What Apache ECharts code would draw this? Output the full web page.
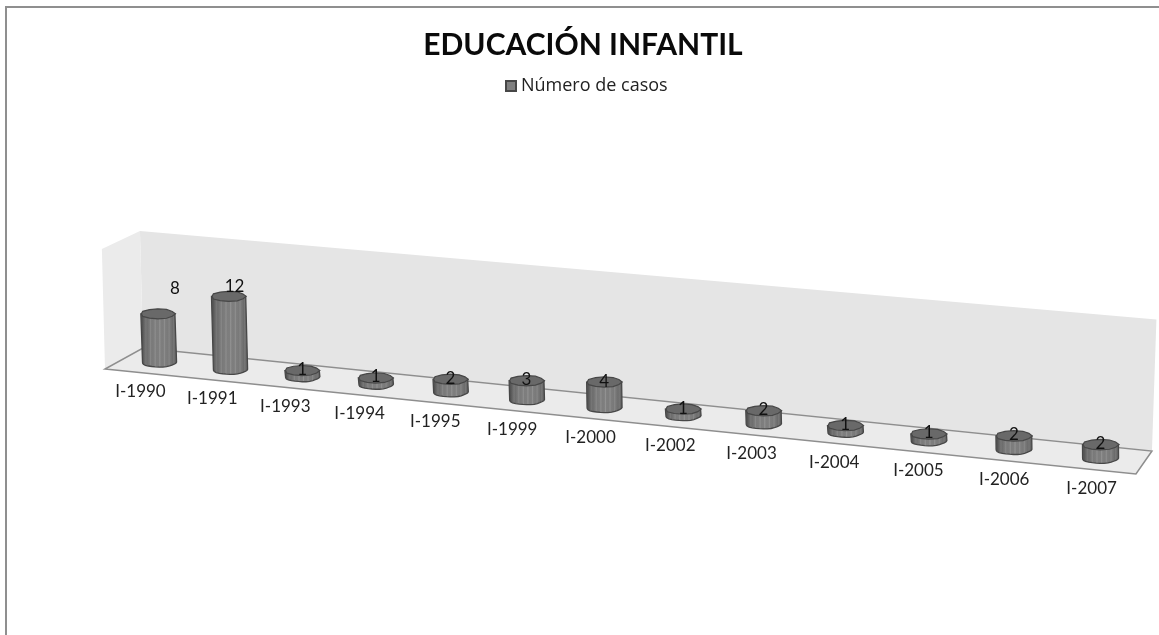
<!DOCTYPE html>
<html>
<head>
<meta charset="utf-8">
<style>html,body{margin:0;padding:0;background:#fff}#c{width:1159px;height:635px}</style>
<script src="https://cdn.jsdelivr.net/npm/echarts@6/dist/echarts.min.js"></script>
</head>
<body>
<div id="c"></div>
<script>
const categories = ['I-1990','I-1991','I-1993','I-1994','I-1995','I-1999','I-2000','I-2002','I-2003','I-2004','I-2005','I-2006','I-2007'];
const casos = [8,12,1,1,2,3,4,1,2,1,1,2,2];
const seriesName = 'Número de casos';
const titleText = 'EDUCACIÓN INFANTIL';
const wallTop = 19.75;
const labelNudge = {0:[17,-25],1:[6,-10]};

const FONT = 'Lato, Carlito, "Open Sans", sans-serif';
const N = categories.length;

// perspective projection of the plot box: u = position along the category axis,
// h = pixels above the floor (from the value axis), d = depth (-1 back, +1 front)
function project(u, h, d) {
  const t = u / N, w = 1 - 0.00853 * u, sc = 1 / w;
  const X = (68.7 * u + 124) * sc;
  const Y = 358.5 + 0.102 * (X - 124);
  const H = h * sc * (1 + 0.013 * d);
  return [
    X - d * (19 - 11 * t) + H * (-0.026 + 0.06 * t),
    Y + d * (10.5 + t) - H
  ];
}
function heightOf(api, params, v) {
  const cs = params.coordSys;
  return cs.y + cs.height - api.coord([0, v])[1];
}
function uOf(api, params, i) {
  const cs = params.coordSys;
  return (api.coord([i, 0])[0] - cs.x) / cs.width * N;
}
function facetRing(c, rx, ry, from, to, n) {
  const pts = [];
  for (let k = 0; k <= n; k++) {
    const a = from + (to - from) * k / n;
    const r = 1 + 0.03 * Math.cos(a * 5);
    pts.push([c[0] + rx * Math.cos(a) * r, c[1] + ry * Math.sin(a) * r]);
  }
  return pts;
}
function stripes() {
  const s = [];
  const n = 8;
  for (let k = 0; k <= n; k++) {
    const p = k / n;
    const edge = Math.abs(p - 0.5) * 2;
    const base = 126 - 42 * edge * edge * edge;
    const c = Math.round(base);
    const lite = Math.round(base + 20 * (1 - edge * 0.6));
    s.push({offset: p, color: `rgb(${c},${c},${c})`});
    if (k < n) {
      s.push({offset: p + 0.03, color: `rgb(${lite},${lite},${lite})`});
      s.push({offset: p + 0.06, color: `rgb(${c},${c},${c})`});
    }
  }
  return s;
}
const bodyFill = new echarts.graphic.LinearGradient(0, 0, 1, 0, stripes());

function renderRoom(params, api) {
  const top = heightOf(api, params, wallTop);
  const poly = (pts, style, z2) => ({type: 'polygon', shape: {points: pts}, style, z2});
  return {
    type: 'group',
    children: [
      poly([project(0,0,-1), project(0,top,-1), project(N,top,-1), project(N,0,-1)], {fill: '#e5e5e5'}, 1),
      poly([project(0,0,1), project(0,top,1), project(0,top,-1), project(0,0,-1)], {fill: '#ebebeb'}, 1),
      poly([project(0,0,1), project(N,0,1), project(N,0,-1), project(0,0,-1)], {fill: '#ebebeb', stroke: '#8e8e8e', lineWidth: 1.5}, 2)
    ]
  };
}

function renderCyl(params, api) {
  const i = api.value(0), v = api.value(1);
  const u = uOf(api, params, i);
  const h = heightOf(api, params, v);
  const scale = Math.sqrt(1 / (1 - 0.00853 * u));
  const rx = 17 * scale, ry = 5 * scale;
  const b = project(u, 0, 0), t = project(u, h, 0);
  const front = facetRing(b, rx, ry, Math.PI, 0, 14);
  const body = [[t[0] + rx, t[1]], [t[0] - rx, t[1]]].concat(front);
  const lid = facetRing(t, rx, ry, 0, Math.PI * 2, 12);
  const lab = project(u, 0, 1);
  const nudge = labelNudge[i] || [0, -1];
  return {
    type: 'group',
    children: [
      {type: 'polygon', z2: 5, shape: {points: body}, style: {fill: bodyFill, stroke: '#474747', lineWidth: 1.3}},
      {type: 'polygon', z2: 6, shape: {points: lid}, style: {fill: '#696969', stroke: '#474747', lineWidth: 1.2}},
      {type: 'text', z2: 7, style: {x: t[0] + nudge[0], y: t[1] + nudge[1], text: String(v), fill: '#111', font: '17px ' + FONT, align: 'center', verticalAlign: 'middle'}},
      {type: 'text', z2: 7, style: {x: lab[0], y: lab[1] + 19, text: categories[i], fill: '#222', font: '17px ' + FONT, align: 'center', verticalAlign: 'middle'}}
    ]
  };
}

const chart = echarts.init(document.getElementById('c'), null, {renderer: 'canvas'});
chart.setOption({
  animation: false,
  backgroundColor: '#ffffff',
  title: {
    text: titleText, left: 578, top: 25, textAlign: 'center',
    textStyle: {fontFamily: FONT, fontWeight: 'bold', fontSize: 30, color: '#0a0a0a'}
  },
  legend: {
    left: 500, top: 72, itemWidth: 10, itemHeight: 10, itemGap: 4,
    data: [{name: seriesName, icon: 'rect'}],
    textStyle: {fontFamily: '"Open Sans", sans-serif', fontSize: 18, color: '#222'}
  },
  grid: {left: 124, right: 15, top: 240, height: 120},
  xAxis: {type: 'category', data: categories, show: false},
  yAxis: {type: 'value', min: 0, max: 20, show: false},
  graphic: [
    {type: 'polyline', silent: true, shape: {points: [[6, 635], [6, 7], [1159, 7]]}, style: {fill: 'none', stroke: '#8f8f8f', lineWidth: 2}}
  ],
  series: [
    {type: 'custom', name: 'room', silent: true, clip: false, z: 1, renderItem: renderRoom, data: [[0, 0]], encode: {x: 0, y: 1}},
    {type: 'custom', name: seriesName, silent: true, clip: false, z: 2, renderItem: renderCyl,
     itemStyle: {color: '#7f7f7f', borderColor: '#474747', borderWidth: 1},
     data: casos.map((v, i) => [i, v]), encode: {x: 0, y: 1}}
  ]
});
</script>
</body>
</html>
